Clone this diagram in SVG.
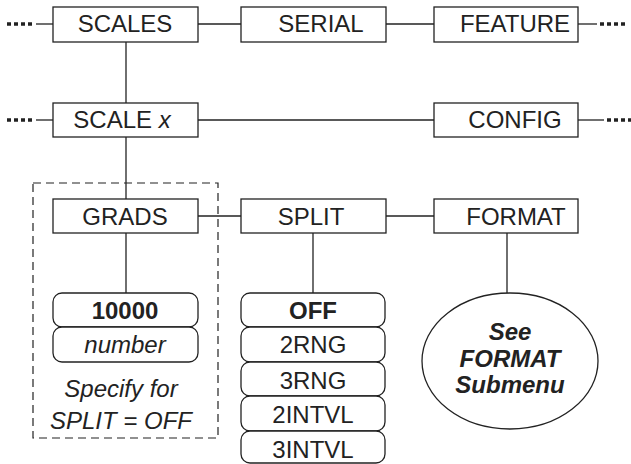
<svg xmlns="http://www.w3.org/2000/svg" width="631" height="464" viewBox="0 0 631 464">
<style>
.box{fill:#fff;stroke:#222;stroke-width:1.3}
.rbox{fill:#fff;stroke:#222;stroke-width:1.3}
.ln{stroke:#222;stroke-width:1.3;fill:none}
.dots{stroke:#222;stroke-width:3.5;stroke-dasharray:4 3;fill:none}
.t{font-family:"Liberation Sans",Arial,sans-serif;font-size:24px;fill:#222;text-anchor:middle}
.b{font-weight:bold}
.i{font-style:italic}
</style>
<rect width="631" height="464" fill="#fff"/>
<g id="connectors">
<line class="dots" x1="7" y1="24" x2="33" y2="24"/>
<line class="ln" x1="36" y1="24" x2="53" y2="24"/>
<line class="ln" x1="198" y1="24" x2="241" y2="24"/>
<line class="ln" x1="386" y1="24" x2="434" y2="24"/>
<line class="ln" x1="578" y1="24" x2="597" y2="24"/>
<line class="dots" x1="600" y1="24" x2="628" y2="24"/>
<line class="dots" x1="7" y1="120" x2="33" y2="120"/>
<line class="ln" x1="36" y1="120" x2="53" y2="120"/>
<line class="ln" x1="198" y1="120" x2="434" y2="120"/>
<line class="ln" x1="578" y1="120" x2="604" y2="120"/>
<line class="dots" x1="607" y1="120" x2="631" y2="120"/>
<line class="ln" x1="198" y1="216" x2="241" y2="216"/>
<line class="ln" x1="386" y1="216" x2="434" y2="216"/>
<line class="ln" x1="126" y1="42" x2="126" y2="103"/>
<line class="ln" x1="126" y1="137" x2="126" y2="199"/>
<line class="ln" x1="126" y1="233" x2="126" y2="293"/>
<line class="ln" x1="313" y1="233" x2="313" y2="293"/>
<line class="ln" x1="507" y1="233" x2="507" y2="293"/>
</g>
<g id="dashed-group">
<rect x="33" y="183" width="185" height="255" fill="none" stroke="#222" stroke-width="1.2" stroke-dasharray="8 5"/>
<text class="t i" x="121" y="397">Specify for</text>
<text class="t i" x="121" y="429">SPLIT = OFF</text>
</g>
<g id="scales"><rect class="box" x="53" y="7" width="145" height="35"/><text class="t" x="125" y="32">SCALES</text></g>
<g id="serial"><rect class="box" x="241" y="7" width="145" height="35"/><text class="t" x="321" y="32">SERIAL</text></g>
<g id="feature"><rect class="box" x="434" y="7" width="144" height="35"/><text class="t" x="515" y="32">FEATURE</text></g>
<g id="scalex"><rect class="box" x="53" y="103" width="145" height="34"/><text class="t" x="122" y="128">SCALE <tspan class="i">x</tspan></text></g>
<g id="config"><rect class="box" x="434" y="103" width="144" height="34"/><text class="t" x="515" y="128">CONFIG</text></g>
<g id="grads"><rect class="box" x="53" y="199" width="145" height="34"/><text class="t" x="125" y="225">GRADS</text></g>
<g id="split"><rect class="box" x="241" y="199" width="145" height="34"/><text class="t" x="311" y="225">SPLIT</text></g>
<g id="format"><rect class="box" x="434" y="199" width="144" height="34"/><text class="t" x="516" y="225">FORMAT</text></g>
<g id="grads-values">
<rect class="rbox" x="53" y="293" width="145" height="34" rx="9"/><text class="t b" x="125" y="319">10000</text>
<rect class="rbox" x="53" y="327" width="145" height="35" rx="9"/><text class="t i" x="125" y="353">number</text>
</g>
<g id="split-values">
<rect class="rbox" x="241" y="293" width="144" height="34" rx="9"/><text class="t b" x="313" y="319">OFF</text>
<rect class="rbox" x="241" y="327" width="144" height="35" rx="9"/><text class="t" x="313" y="353">2RNG</text>
<rect class="rbox" x="241" y="362" width="144" height="34" rx="9"/><text class="t" x="313" y="389">3RNG</text>
<rect class="rbox" x="241" y="396" width="144" height="35" rx="9"/><text class="t" x="313" y="423">2INTVL</text>
<rect class="rbox" x="241" y="431" width="144" height="32" rx="9"/><text class="t" x="313" y="458">3INTVL</text>
</g>
<g id="format-submenu">
<ellipse cx="510" cy="361" rx="88" ry="68" fill="#fff" stroke="#222" stroke-width="1.3"/>
<text class="t b i" x="510" y="340">See</text>
<text class="t b i" x="510" y="367">FORMAT</text>
<text class="t b i" x="510" y="393">Submenu</text>
</g>
</svg>
